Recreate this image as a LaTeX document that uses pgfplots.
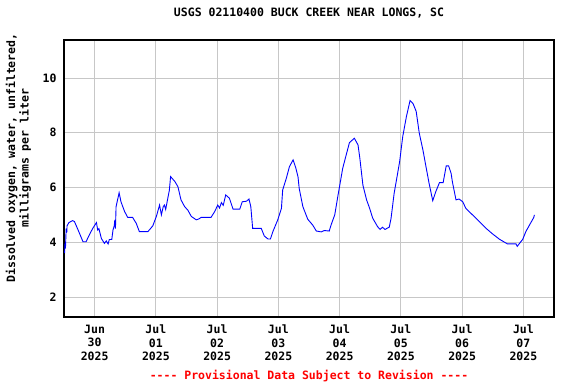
\documentclass[border=0pt]{standalone}
\usepackage{pgfplots}
\pgfplotsset{compat=1.18}
\usepackage{fontspec}
\setmonofont{DejaVu Sans Mono}
\newcommand{\lab}{\fontsize{11.5bp}{13.4bp}\selectfont\ttfamily\bfseries}
\begin{document}
\begin{tikzpicture}[x=1bp,y=1bp]
\useasboundingbox (0,0) rectangle (576,384);
\begin{axis}[
  at={(64bp,67bp)}, anchor=south west,
  scale only axis, width=490bp, height=277bp,
  xmin=-0.5, xmax=7.5, ymin=1.27, ymax=11.39,
  xtick={0,1,2,3,4,5,6,7},
  xticklabels={{Jun\\30\\2025},{Jul\\01\\2025},{Jul\\02\\2025},{Jul\\03\\2025},{Jul\\04\\2025},{Jul\\05\\2025},{Jul\\06\\2025},{Jul\\07\\2025}},
  ytick={2,4,6,8,10},
  major tick length=0,
  grid=major,
  grid style={color=black!22, line width=1bp},
  axis line style={line width=1.2bp},
  tick label style={font=\lab},
  xticklabel style={align=center, yshift=-4.5bp},
  yticklabel style={xshift=-4bp},
  /pgf/number format/assume math mode=true,
  clip=false,
  title={USGS 02110400 BUCK CREEK NEAR LONGS, SC},
  title style={font=\lab, at={(axis description cs:0.5,1.076)}, anchor=center},
  ylabel={Dissolved oxygen, water, unfiltered,\\milligrams per liter},
  ylabel style={font=\lab, align=center, at={(axis description cs:-0.093,0.574)}, anchor=center},
]
\addplot[color=blue, line width=0.9bp] coordinates {
(-0.49,3.6) (-0.485,3.9) (-0.475,3.84) (-0.465,4.5) (-0.455,4.35) (-0.45,4.6)
(-0.42,4.72) (-0.36,4.79) (-0.33,4.76) (-0.27,4.45) (-0.19,4.02) (-0.14,4.02)
(-0.08,4.3) (-0.03,4.51) (0.03,4.72) (0.05,4.45) (0.07,4.5) (0.11,4.14)
(0.16,3.96) (0.19,4.05) (0.22,3.94) (0.24,4.1) (0.28,4.1) (0.30,4.45)
(0.32,4.6) (0.33,4.82) (0.34,4.5) (0.35,5.3) (0.40,5.81) (0.43,5.48)
(0.49,5.12) (0.54,4.91) (0.62,4.91) (0.68,4.69) (0.73,4.39) (0.87,4.39)
(0.95,4.6) (1.01,4.96) (1.06,5.36) (1.09,5.0) (1.12,5.3) (1.14,5.36)
(1.16,5.2) (1.20,5.67) (1.22,5.9) (1.24,6.4) (1.31,6.22) (1.36,6.03)
(1.41,5.55) (1.47,5.3) (1.52,5.18) (1.58,4.94) (1.66,4.82) (1.70,4.85)
(1.74,4.91) (1.90,4.91) (1.96,5.12) (2.01,5.36) (2.04,5.25) (2.07,5.45)
(2.10,5.35) (2.14,5.73) (2.20,5.61) (2.26,5.21) (2.37,5.21) (2.41,5.48)
(2.48,5.5) (2.52,5.58) (2.55,5.3) (2.58,4.51) (2.72,4.51) (2.77,4.23)
(2.83,4.12) (2.87,4.12) (2.91,4.39) (2.99,4.82) (3.05,5.24) (3.07,5.91)
(3.13,6.34) (3.18,6.76) (3.24,7.01) (3.28,6.75) (3.32,6.40) (3.34,5.97)
(3.40,5.30) (3.48,4.84) (3.56,4.63) (3.62,4.41) (3.70,4.38) (3.75,4.43) (3.83,4.41)
(3.86,4.63) (3.92,5.0) (3.97,5.67) (4.05,6.7) (4.10,7.13) (4.16,7.64)
(4.24,7.80) (4.30,7.56) (4.33,7.07) (4.38,6.09) (4.44,5.55) (4.49,5.24)
(4.54,4.88) (4.62,4.57) (4.66,4.47) (4.70,4.55) (4.74,4.47) (4.81,4.55) (4.84,4.88)
(4.89,5.79) (4.93,6.3) (4.98,6.95) (5.03,7.86) (5.09,8.59) (5.15,9.18)
(5.20,9.06) (5.25,8.78) (5.30,7.99) (5.36,7.37) (5.41,6.76) (5.46,6.16)
(5.52,5.52) (5.57,5.85) (5.63,6.18) (5.69,6.18) (5.74,6.79) (5.78,6.79)
(5.82,6.52) (5.84,6.22) (5.90,5.55) (5.95,5.58) (6.01,5.48) (6.06,5.24)
(6.17,5.0) (6.28,4.76) (6.39,4.51) (6.50,4.30) (6.61,4.11) (6.74,3.94)
(6.88,3.94) (6.90,3.85) (6.93,3.94) (6.99,4.11) (7.04,4.39) (7.10,4.63)
(7.17,4.91) (7.18,5.0)
};
\node[font=\lab, text=red, anchor=center] at (axis description cs:0.5,-0.212) {---- Provisional Data Subject to Revision ----};
\end{axis}
\end{tikzpicture}
\end{document}
